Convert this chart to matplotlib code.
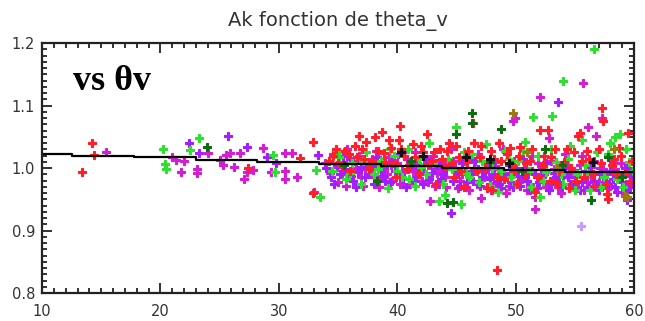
# Ak en fonction de theta_v (nuage de points + moyenne par classe)

import matplotlib
matplotlib.use('Agg')
import matplotlib.pyplot as plt
from matplotlib.ticker import MultipleLocator, FormatStrFormatter

# Points, par couleur (theta_v, Ak)
rouge_x = [14.2, 13.35, 14.4, 32.9, 27.4, 31.8, 32.9, 34.2, 34.8, 35.3, 35.9, 36.4, 36.8, 37.2, 37.6,
           38.1, 38.4, 38.7, 39.0, 39.5, 39.9, 40.2, 40.15, 40.6, 41.0, 41.3, 41.8, 42.2, 42.5, 42.9,
           43.3, 43.6, 44.0, 44.4, 44.8, 45.2, 45.6, 46.0, 46.4, 46.7, 47.1, 47.55, 47.98, 48.2, 48.4,
           48.6, 49.0, 49.3, 49.7, 50.1, 50.4, 50.8, 51.2, 51.6, 52.1, 52.7, 52.4, 52.9, 53.3, 53.7,
           54.1, 54.5, 54.9, 55.3, 55.4, 55.8, 56.2, 56.6, 57.0, 57.3, 57.35, 57.7, 57.8, 58.1, 58.5,
           58.9, 59.5, 59.7]
rouge_y = [1.0395, 0.994, 1.021, 0.960, 0.9995, 1.0155, 1.042, 1.012, 1.030, 1.004, 1.022, 1.035, 1.051, 1.015, 0.998,
           1.050, 1.027, 1.057, 1.010, 1.032, 0.985, 1.067, 1.045, 1.020, 1.005, 1.038, 0.990, 1.025, 1.054, 1.012,
           0.975, 1.030, 1.002, 1.040, 0.985, 1.018, 0.970, 1.028, 1.072, 0.995, 1.035, 0.9675, 0.965, 1.015, 0.837,
           1.040, 0.982, 1.022, 1.005, 0.975, 1.033, 0.990, 1.012, 0.962, 1.061, 1.061, 1.020, 0.980, 1.030, 0.995,
           1.010, 0.968, 1.025, 1.051, 1.056, 0.985, 1.015, 0.972, 1.030, 1.0955, 1.0757, 0.958, 0.950, 1.005, 0.990,
           1.020, 1.0555, 0.978]
rouge_x2 = [34.6, 35.0, 35.6, 36.0, 36.6, 37.0, 37.4, 37.9, 38.9, 39.3, 39.7, 40.3, 40.8, 41.5, 42.0,
            42.6, 43.1, 43.8, 44.2, 44.6, 45.0, 45.4, 45.9, 46.5, 47.0, 47.4, 47.9, 48.4, 48.8, 49.5,
            49.9, 50.3, 50.9, 51.4, 51.9, 52.3, 53.0, 53.5, 54.3, 54.7, 55.1, 55.6, 56.0, 56.5, 57.2,
            57.6, 58.3, 58.7, 59.2, 59.8]
rouge_y2 = [1.020, 1.008, 1.028, 0.995, 1.018, 1.030, 1.042, 1.012, 1.024, 1.045, 1.008, 1.030, 0.998, 1.018, 1.035,
            1.005, 1.025, 1.015, 1.028, 1.008, 1.035, 0.995, 1.010, 1.040, 1.018, 1.000, 1.028, 0.985, 1.012, 1.032,
            0.995, 1.020, 1.008, 1.030, 0.985, 1.005, 1.018, 0.975, 1.030, 1.000, 0.980, 1.012, 1.028, 0.990, 1.008,
            0.975, 1.015, 1.032, 0.990, 1.012]

vert_x = [20.2, 20.4, 20.5, 23.3, 22.5, 29.5, 29.7, 33.5, 33.1, 34.5, 35.1, 35.7, 36.2, 36.9, 37.4,
          38.0, 38.6, 39.2, 39.7, 40.4, 40.9, 41.5, 42.0, 42.7, 43.5, 44.0, 44.3, 45.0, 45.4, 45.8,
          46.3, 46.9, 47.5, 48.0, 48.5, 49.1, 49.6, 50.2, 50.8, 51.5, 51.3, 51.9, 52.1, 52.6, 53.1,
          53.4, 54.0, 54.0, 54.6, 55.2, 55.9, 56.6, 56.3, 56.9, 57.5, 58.0, 58.4, 58.8, 59.1, 59.6, 59.9]
vert_y = [1.030, 1.007, 0.998, 1.0485, 1.029, 1.021, 0.994, 0.953, 0.997, 0.995, 1.018, 0.982, 1.008, 0.975, 1.025,
          0.990, 1.012, 0.968, 1.020, 0.985, 1.030, 0.972, 1.002, 1.040, 0.947, 0.957, 1.015, 1.065, 0.943, 0.992,
          1.022, 0.978, 1.038, 1.000, 0.962, 1.028, 0.985, 1.012, 1.042, 1.081, 0.970, 1.020, 0.953, 0.993, 1.083,
          1.010, 1.139, 0.975, 1.035, 0.990, 1.005, 1.190, 0.965, 1.025, 0.985, 1.040, 1.049, 1.054, 0.970, 1.010, 0.995]
vert_x2 = [34.9, 36.0, 37.1, 38.4, 39.4, 40.0, 41.0, 41.8, 42.4, 43.0, 43.9, 44.6, 45.6, 46.1, 47.2,
           47.8, 48.8, 49.4, 50.0, 50.6, 51.1, 52.3, 53.0, 53.8, 54.4, 55.0, 55.6, 56.1, 57.2, 57.8,
           58.6, 59.3]
vert_y2 = [1.025, 0.992, 1.012, 0.998, 1.030, 0.995, 0.982, 1.015, 0.990, 1.008, 0.975, 0.998, 1.025, 0.985, 1.012,
           0.972, 0.995, 1.015, 0.975, 1.028, 0.995, 0.980, 1.030, 0.990, 1.015, 0.965, 1.045, 0.990, 0.970, 1.022,
           0.982, 1.030]

vert_fonce_x = [23.9, 35.5, 38.3, 41.2, 44.2, 44.7, 45.0, 46.3, 46.3, 47.8, 48.8, 50.5, 52.5, 53.9, 56.4, 57.8, 59.0]
vert_fonce_y = [1.033, 1.005, 0.980, 1.012, 0.9435, 0.946, 1.054, 1.0875, 1.072, 1.010, 1.063, 0.995, 1.030, 1.005, 0.949, 1.018, 0.985]

olive_x = [49.8, 51.0, 53.5, 58.3, 59.2, 59.4]
olive_y = [1.0875, 1.025, 1.000, 1.030, 0.955, 0.953]

noir_x = [40.3, 42.2, 45.8, 47.8, 49.4, 56.5]
noir_y = [1.025, 1.020, 1.018, 1.015, 1.008, 1.010]

magenta_x = [15.4, 21.0, 21.7, 21.3, 22.0, 23.1, 23.1, 24.0, 25.0, 25.5, 25.9, 26.7, 25.3, 26.2, 27.3,
             27.1, 27.8, 28.7, 29.3, 30.5, 31.1, 30.5, 30.5, 31.5, 33.9, 34.3, 33.0, 34.6, 35.0, 35.4,
             35.8, 36.1, 36.5, 36.8, 37.1, 37.5, 37.8, 38.2, 38.5, 38.9, 39.3, 39.6, 40.0, 40.4, 40.8,
             41.1, 41.5, 41.9, 42.3, 42.8, 42.6, 43.0, 43.4, 43.8, 44.1, 44.5, 44.9, 45.3, 45.7, 46.1,
             46.5, 46.8, 47.1, 47.3, 47.7, 48.1, 48.5, 48.9, 49.2, 49.8, 49.95, 49.5, 49.9, 50.3, 50.7,
             51.0, 51.4, 51.6, 51.6, 51.8, 52.1, 52.2, 52.8, 52.6, 53.0, 53.4, 53.8, 54.2, 54.6, 55.0,
             55.4, 55.7, 55.8, 56.1, 56.2, 56.6, 56.8, 57.0, 57.3, 57.4, 57.8, 58.2, 58.6, 59.0, 59.4, 59.8]
magenta_y = [1.026, 1.018, 0.994, 1.013, 1.012, 0.998, 0.9915, 1.0235, 1.013, 1.021, 1.0235, 1.0235, 1.005, 1.002, 0.994,
             0.983, 0.997, 1.0315, 0.994, 1.0235, 1.0235, 0.982, 0.996, 0.986, 1.0075, 0.9915, 0.962, 1.022, 0.978, 1.010,
             1.030, 0.988, 1.000, 1.020, 0.972, 1.008, 0.990, 1.028, 0.970, 1.000, 1.018, 0.980, 1.008, 0.995, 1.015,
             0.975, 1.025, 0.990, 1.005, 0.9477, 0.978, 1.020, 0.992, 1.010, 0.970, 1.030, 0.998, 0.980, 1.012, 0.965,
             1.000, 1.022, 0.9515, 0.985, 1.008, 0.972, 0.998, 1.030, 0.960, 1.0757, 1.0795, 0.990, 1.012, 0.978, 1.000,
             0.965, 1.020, 0.934, 0.953, 0.985, 1.113, 1.000, 1.0475, 0.970, 1.012, 0.982, 0.960, 1.022, 0.990, 0.975,
             1.005, 1.1365, 0.965, 1.065, 0.992, 1.012, 1.051, 0.978, 1.0795, 0.998, 0.968, 1.010, 0.985, 0.962, 1.000, 0.980]
magenta_x2 = [34.9, 35.3, 35.7, 36.3, 36.9, 37.3, 37.9, 38.3, 38.7, 39.1, 39.5, 40.2, 40.6, 41.3, 41.7,
              42.1, 42.5, 43.2, 43.6, 44.0, 44.7, 45.1, 45.5, 46.3, 46.7, 47.5, 47.9, 48.3, 48.7, 49.4,
              50.0, 50.5, 51.2, 51.9, 52.4, 53.2, 53.6, 54.0, 54.4, 54.8, 55.2, 55.6, 56.0, 56.4, 57.1,
              57.6, 58.0, 58.4, 58.9, 59.3, 59.6]
magenta_y2 = [1.002, 0.990, 0.972, 1.012, 0.985, 0.998, 1.015, 0.982, 1.010, 0.990, 1.005, 0.975, 1.025, 0.995, 1.008,
              0.980, 1.015, 0.972, 1.000, 0.985, 1.012, 0.968, 0.990, 1.015, 0.975, 0.998, 0.965, 1.010, 0.985, 0.972,
              0.995, 0.985, 0.975, 1.008, 0.990, 0.998, 0.970, 0.985, 1.005, 0.995, 0.968, 1.020, 0.978, 0.985, 1.000,
              0.990, 0.972, 0.998, 1.008, 0.975, 0.995]

violet_x = [22.4, 23.3, 25.7, 27.3, 29.0, 29.8, 33.3, 34.0, 34.4, 34.9, 35.2, 35.6, 36.0, 36.3, 36.7,
            37.0, 37.3, 37.7, 38.0, 38.3, 38.8, 39.1, 39.4, 39.8, 40.1, 40.5, 40.9, 41.2, 41.6, 42.0,
            42.4, 42.7, 43.1, 43.5, 43.9, 44.3, 44.5, 44.7, 45.1, 45.5, 45.9, 46.2, 46.6, 47.0, 47.4,
            47.8, 48.2, 48.6, 49.0, 49.4, 49.8, 50.2, 50.6, 51.0, 51.4, 51.8, 52.2, 52.6, 53.0, 53.2,
            53.6, 53.7, 54.0, 54.4, 54.8, 55.2, 55.6, 56.0, 56.4, 56.8, 57.2, 57.6, 58.0, 58.4, 58.8,
            59.2, 59.4, 59.4, 59.7, 60.0]
violet_y = [1.0395, 1.0235, 1.052, 1.033, 1.018, 1.0075, 1.021, 1.000, 0.985, 1.005, 0.990, 0.998, 1.015, 0.980, 0.993,
            1.010, 0.985, 1.000, 0.975, 1.018, 0.988, 1.005, 0.978, 0.995, 1.022, 0.982, 0.998, 1.008, 0.985, 0.995,
            1.015, 0.983, 1.000, 0.975, 0.990, 1.005, 0.9285, 0.980, 0.995, 1.008, 0.978, 0.990, 1.012, 0.972, 0.995,
            0.982, 1.000, 0.975, 0.992, 1.005, 0.970, 0.988, 1.015, 0.980, 0.995, 0.968, 0.985, 1.008, 0.975, 0.992,
            1.106, 0.978, 1.000, 0.985, 0.970, 0.992, 0.978, 0.988, 1.002, 0.975, 0.990, 0.980, 0.995, 0.970, 0.985,
            1.000, 0.9648, 0.949, 0.988, 0.975]
violet_x2 = [34.2, 34.7, 35.4, 35.9, 36.5, 36.9, 37.6, 38.1, 38.6, 39.0, 39.6, 40.3, 40.7, 41.4, 41.8,
             42.2, 42.9, 43.3, 43.7, 44.1, 44.9, 45.3, 45.7, 46.4, 46.8, 47.2, 47.6, 48.0, 48.4, 48.8,
             49.2, 49.6, 50.0, 50.4, 50.8, 51.2, 51.6, 52.0, 52.4, 52.8, 53.4, 53.9, 54.2, 54.6, 55.0,
             55.4, 55.9, 56.2, 56.6, 57.0, 57.4, 57.8, 58.2, 58.6, 59.0, 59.6, 59.9]
violet_y2 = [1.012, 0.975, 1.020, 0.985, 0.970, 1.002, 0.990, 1.005, 0.995, 0.980, 1.010, 0.990, 0.970, 0.980, 1.000,
             0.975, 0.992, 1.008, 0.982, 0.998, 0.985, 0.972, 0.995, 0.980, 0.998, 0.985, 0.970, 0.990, 0.980, 0.968,
             0.985, 0.978, 1.000, 0.972, 0.985, 0.965, 0.990, 0.978, 0.995, 0.965, 0.985, 0.970, 0.992, 0.975, 0.985,
             0.965, 0.995, 0.970, 0.980, 0.965, 0.985, 0.975, 0.982, 0.962, 0.978, 0.970, 0.985]

lavande_x = [55.5]
lavande_y = [0.907]

# Moyenne par classe de theta_v (ligne noire en escalier)
classes_x = [10, 12.5, 17.8, 23.0, 28.2, 33.4, 38.6, 43.8, 49.0, 54.2, 60]
moyenne_ak = [1.023, 1.020, 1.017, 1.013, 1.010, 1.007, 1.003, 1.000, 0.997, 0.993, 0.993]

fig = plt.figure(figsize=(6.45, 3.21), dpi=100)
ax = fig.add_axes([0.0651, 0.0872, 0.9179, 0.7788])

series = [
    (magenta_x + magenta_x2, magenta_y + magenta_y2, '#d41cd4'),
    (violet_x + violet_x2, violet_y + violet_y2, '#a41cff'),
    (vert_x + vert_x2, vert_y + vert_y2, '#2ee02e'),
    (rouge_x + rouge_x2, rouge_y + rouge_y2, '#ff1e2a'),
    (vert_fonce_x, vert_fonce_y, '#0f6a12'),
    (olive_x, olive_y, '#9c7a10'),
    (lavande_x, lavande_y, '#c89cff'),
    (noir_x, noir_y, '#111111'),
]
for xs, ys, c in series:
    ax.plot(xs, ys, linestyle='', marker='P', markersize=5.5, markeredgewidth=0.8, color=c)

ax.plot(classes_x, moyenne_ak, drawstyle='steps-post', color='black', linewidth=1.6)

ax.set_xlim(10, 60)
ax.set_ylim(0.8, 1.2)
ax.xaxis.set_major_locator(MultipleLocator(10))
ax.xaxis.set_minor_locator(MultipleLocator(1))
ax.yaxis.set_major_locator(MultipleLocator(0.1))
ax.yaxis.set_minor_locator(MultipleLocator(0.01))
ax.yaxis.set_major_formatter(FormatStrFormatter('%.1f'))
ax.tick_params(which='both', direction='in', top=True, right=True, width=1.3, colors='#222222',
               labelsize=10.5, labelcolor='#333333')
ax.tick_params(which='major', length=7, pad=5)
ax.tick_params(which='minor', length=3.5)
ax.tick_params(axis='x', pad=8)
for s in ax.spines.values():
    s.set_linewidth(1.6)
    s.set_color('#222222')

ax.set_title('Ak fonction de theta_v', fontsize=14, color='#333333', pad=12)

fig.text(73 / 645, 1 - 90 / 321, 'vs θv', fontsize=26, fontweight='bold',
         family=['Liberation Serif', 'DejaVu Serif'], va='baseline', ha='left')

plt.savefig('out.png', dpi=100)
